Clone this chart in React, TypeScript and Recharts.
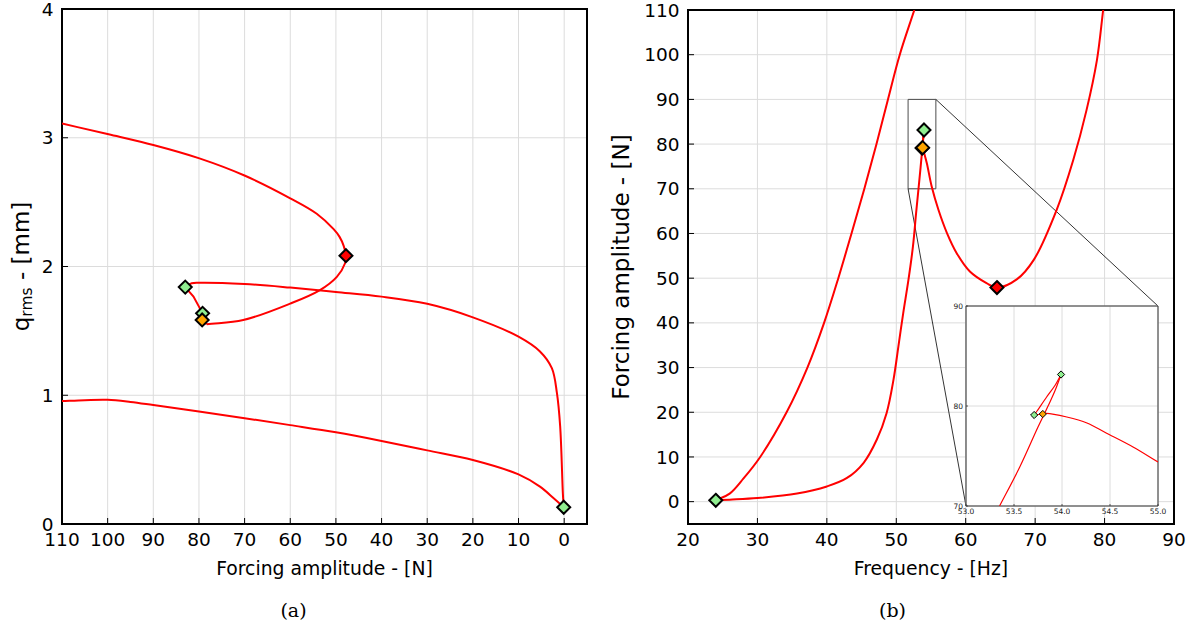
import React from 'react';
import {
  ComposedChart,
  Line,
  Scatter,
  XAxis,
  YAxis,
  CartesianGrid,
  ReferenceArea,
  ReferenceLine,
} from 'recharts';

type P = { x: number; y: number };

// ---------------- Panel (a): q_rms vs forcing amplitude ----------------
const forceTicksA = [110, 100, 90, 80, 70, 60, 50, 40, 30, 20, 10, 0];
const forceDomainA: [number, number] = [-5, 110];
const qrmsTicks = [0, 1, 2, 3, 4];
const qrmsDomain: [number, number] = [0, 4];

const lowerBranchA: P[] = [
  { x: 0.1, y: 0.13 }, { x: 2.3, y: 0.2 }, { x: 5.3, y: 0.29 }, { x: 10, y: 0.385 },
  { x: 20, y: 0.497 }, { x: 30, y: 0.572 }, { x: 40, y: 0.645 }, { x: 50, y: 0.712 },
  { x: 60, y: 0.768 }, { x: 70, y: 0.822 }, { x: 80, y: 0.874 }, { x: 90, y: 0.924 },
  { x: 95, y: 0.948 }, { x: 100, y: 0.965 }, { x: 105, y: 0.962 }, { x: 110, y: 0.955 },
];

const middleBranchA: P[] = [
  { x: 0.1, y: 0.13 }, { x: 0.29, y: 0.24 }, { x: 0.88, y: 0.76 }, { x: 1.6, y: 1.02 },
  { x: 2.7, y: 1.21 }, { x: 5.3, y: 1.34 }, { x: 10, y: 1.455 }, { x: 20, y: 1.605 },
  { x: 30, y: 1.71 }, { x: 40, y: 1.766 }, { x: 50, y: 1.802 }, { x: 60, y: 1.836 },
  { x: 70, y: 1.864 }, { x: 79.8, y: 1.874 }, { x: 81.6, y: 1.87 }, { x: 83, y: 1.84 },
];

// from the orange point, through the fold (red point), up to 110 N
const upperBranchA: P[] = [
  { x: 78.3, y: 1.551 }, { x: 70.3, y: 1.584 }, { x: 60, y: 1.712 }, { x: 53.5, y: 1.817 },
  { x: 49.8, y: 1.92 }, { x: 48.0, y: 2.025 }, { x: 47.8, y: 2.084 }, { x: 48.3, y: 2.16 },
  { x: 49.2, y: 2.23 }, { x: 50.5, y: 2.29 }, { x: 54.2, y: 2.41 }, { x: 60, y: 2.53 },
  { x: 69.9, y: 2.705 }, { x: 79.9, y: 2.84 }, { x: 90, y: 2.944 },
  { x: 99.8, y: 3.027 }, { x: 110, y: 3.11 },
];

const linkA: P[] = [
  { x: 83, y: 1.84 }, { x: 81.2, y: 1.767 }, { x: 79.2, y: 1.636 }, { x: 79.3, y: 1.585 }, { x: 78.3, y: 1.551 },
];

const greenA: P[] = [{ x: 0.1, y: 0.13 }, { x: 83, y: 1.84 }, { x: 79.2, y: 1.636 }];
const orangeA: P[] = [{ x: 79.3, y: 1.585 }];
const redA: P[] = [{ x: 47.8, y: 2.084 }];

// ---------------- Panel (b): forcing amplitude vs frequency ----------------
const freqTicks = [20, 30, 40, 50, 60, 70, 80, 90];
const freqDomain: [number, number] = [20, 90];
const forceTicksB = [0, 10, 20, 30, 40, 50, 60, 70, 80, 90, 100, 110];
const forceDomainB: [number, number] = [-5, 110];

const leftBranchB: P[] = [
  { x: 24, y: 0.3 }, { x: 26, y: 1.8 }, { x: 28, y: 5.2 }, { x: 30.4, y: 10 },
  { x: 34.2, y: 20 }, { x: 37.2, y: 30 }, { x: 39.6, y: 40 }, { x: 41.65, y: 50 },
  { x: 43.55, y: 60 }, { x: 45.4, y: 70 }, { x: 47.15, y: 80 }, { x: 48.8, y: 90 },
  { x: 50.5, y: 100 }, { x: 52.6, y: 110 },
];

const steepBranchB: P[] = [
  { x: 24, y: 0.3 }, { x: 26, y: 0.45 }, { x: 30, y: 0.8 }, { x: 35.7, y: 1.8 },
  { x: 40, y: 3.4 }, { x: 42.9, y: 5.3 }, { x: 45.3, y: 8.7 }, { x: 47.2, y: 13.9 },
  { x: 48.6, y: 19.8 }, { x: 49.6, y: 27.3 }, { x: 50.3, y: 34.7 }, { x: 51.0, y: 42.2 },
  { x: 51.75, y: 49.6 }, { x: 52.4, y: 57.1 }, { x: 52.85, y: 64.5 }, { x: 53.2, y: 70 },
  { x: 53.5, y: 74.8 }, { x: 53.75, y: 79 }, { x: 53.99, y: 83.15 },
];

const valleyBranchB: P[] = [
  { x: 53.8, y: 79.2 }, { x: 54.4, y: 75.7 }, { x: 55.1, y: 70.5 }, { x: 56.07, y: 65.3 },
  { x: 57.3, y: 60.1 }, { x: 58.7, y: 55.6 }, { x: 60.6, y: 51.5 }, { x: 63.0, y: 48.9 },
  { x: 64.5, y: 47.9 }, { x: 67.4, y: 49.8 }, { x: 69.8, y: 54.1 }, { x: 73.1, y: 65.3 },
  { x: 75.5, y: 76.5 }, { x: 77.4, y: 87.6 }, { x: 78.9, y: 98.8 }, { x: 79.8, y: 110 },
];

const loopB: P[] = [
  { x: 53.71, y: 79.1 }, { x: 53.74, y: 79.5 }, { x: 53.84, y: 80.9 }, { x: 53.93, y: 82.1 }, { x: 53.99, y: 83.15 },
];
const linkB: P[] = [{ x: 53.71, y: 79.1 }, { x: 53.8, y: 79.2 }];

const greenB: P[] = [{ x: 24, y: 0.3 }, { x: 53.71, y: 79.1 }, { x: 53.99, y: 83.15 }];
const orangeB: P[] = [{ x: 53.8, y: 79.2 }];
const redB: P[] = [{ x: 64.5, y: 47.9 }];

// zoomed view
const insetXTicks = [53, 53.5, 54, 54.5, 55];
const insetXDomain: [number, number] = [53, 55];
const insetYTicks = [70, 80, 90];
const insetYDomain: [number, number] = [70, 90];
const insetSteep: P[] = [
  { x: 53.35, y: 70 }, { x: 53.56, y: 73.9 }, { x: 53.75, y: 77.9 }, { x: 53.86, y: 80.1 },
  { x: 53.93, y: 81.6 }, { x: 53.99, y: 83.15 },
];
const insetRight: P[] = [
  { x: 53.8, y: 79.2 }, { x: 53.84, y: 79.27 }, { x: 54.05, y: 78.9 }, { x: 54.26, y: 78.3 },
  { x: 54.46, y: 77.3 }, { x: 54.74, y: 75.9 }, { x: 55.0, y: 74.4 },
];

// marked zoom box and inset placement (fraction of panel (b) axes)
const zoomBox = { x1: 51.7, x2: 55.7, y1: 70, y2: 90 };
const insetFrac = { x0: 0.572, x1: 0.967, y0: 0.035, y1: 0.4241 };

// ---------------- layout ----------------
const PA = { left: 62, top: 9, width: 525, height: 515 };
const PB = { left: 688, top: 10, width: 486, height: 514 };
const FIG_H = 629;

const RED = '#ff0000';
const GREEN = '#90ee90';
const ORANGE = '#ffa500';
const GRID = '#dcdcdc';

// centripetal Catmull-Rom curve factory (d3 curve interface), smooth through every point
const catmullRom = (context: any) => {
  let pts: number[][] = [];
  return {
    areaStart() {},
    areaEnd() {},
    lineStart() {
      pts = [];
    },
    point(x: number, y: number) {
      pts.push([+x, +y]);
    },
    lineEnd() {
      const n = pts.length;
      if (!n) return;
      context.moveTo(pts[0][0], pts[0][1]);
      if (n === 1) return;
      if (n === 2) {
        context.lineTo(pts[1][0], pts[1][1]);
        return;
      }
      const dist = (u: number[], v: number[]) => Math.max(Math.pow(Math.hypot(v[0] - u[0], v[1] - u[1]), 0.5), 1e-6);
      for (let i = 0; i < n - 1; i++) {
        const p1 = pts[i];
        const p2 = pts[i + 1];
        const p0 = i > 0 ? pts[i - 1] : [2 * p1[0] - p2[0], 2 * p1[1] - p2[1]];
        const p3 = i + 2 < n ? pts[i + 2] : [2 * p2[0] - p1[0], 2 * p2[1] - p1[1]];
        const t01 = dist(p0, p1);
        const t12 = dist(p1, p2);
        const t23 = dist(p2, p3);
        const m1 = [0, 1].map((k) => p2[k] - p1[k] + t12 * ((p1[k] - p0[k]) / t01 - (p2[k] - p0[k]) / (t01 + t12)));
        const m2 = [0, 1].map((k) => p2[k] - p1[k] + t12 * ((p3[k] - p2[k]) / t23 - (p3[k] - p1[k]) / (t12 + t23)));
        context.bezierCurveTo(
          p1[0] + m1[0] / 3,
          p1[1] + m1[1] / 3,
          p2[0] - m2[0] / 3,
          p2[1] - m2[1] / 3,
          p2[0],
          p2[1],
        );
      }
    },
  };
};

const diamond = (fill: string, r: number, sw: number) => (props: any) => {
  const { cx, cy } = props;
  if (cx == null || cy == null) return <g />;
  return (
    <polygon
      points={`${cx},${cy - r} ${cx + r},${cy} ${cx},${cy + r} ${cx - r},${cy}`}
      fill={fill}
      stroke="#000"
      strokeWidth={sw}
      strokeLinejoin="miter"
    />
  );
};

const tickStyle = { fontSize: 18.5, fill: '#000' };
const tickLineStyle = { stroke: '#000', strokeWidth: 1 };

const lineProps = {
  dataKey: 'y',
  stroke: RED,
  strokeWidth: 2,
  dot: false,
  activeDot: false,
  isAnimationActive: false,
} as const;

function PanelA() {
  const chartW = 600;
  const margin = { top: PA.top, right: chartW - PA.left - PA.width, bottom: FIG_H - PA.top - PA.height - 51, left: 0 };
  return (
    <ComposedChart width={chartW} height={FIG_H} margin={margin}>
      <CartesianGrid stroke={GRID} strokeWidth={1} />
      <XAxis
        type="number"
        dataKey="x"
        domain={forceDomainA}
        reversed
        ticks={forceTicksA}
        interval={0}
        allowDataOverflow
        height={51}
        tickSize={-6}
        tickMargin={15}
        axisLine={false}
        tickLine={tickLineStyle}
        tick={tickStyle}
      />
      <YAxis
        type="number"
        dataKey="y"
        domain={qrmsDomain}
        ticks={qrmsTicks}
        interval={0}
        allowDataOverflow
        width={PA.left}
        tickSize={-6}
        tickMargin={14.5}
        axisLine={false}
        tickLine={tickLineStyle}
        tick={tickStyle}
      />
      <Line {...lineProps} data={lowerBranchA} type={catmullRom as any} />
      <Line {...lineProps} data={middleBranchA} type={catmullRom as any} />
      <Line {...lineProps} data={upperBranchA} type={catmullRom as any} />
      <Line {...lineProps} data={linkA} type="linear" />
      <ReferenceArea x1={forceDomainA[0]} x2={forceDomainA[1]} y1={qrmsDomain[0]} y2={qrmsDomain[1]} fill="none" stroke="#000" strokeWidth={2} ifOverflow="visible" />
      <Scatter data={greenA} shape={diamond(GREEN, 6.5, 2)} isAnimationActive={false} />
      <Scatter data={orangeA} shape={diamond(ORANGE, 6.5, 2)} isAnimationActive={false} />
      <Scatter data={redA} shape={diamond(RED, 6.5, 2)} isAnimationActive={false} />
    </ComposedChart>
  );
}

const fracToX = (f: number) => freqDomain[0] + f * (freqDomain[1] - freqDomain[0]);
const fracToY = (f: number) => forceDomainB[0] + f * (forceDomainB[1] - forceDomainB[0]);

function PanelB() {
  const chartW = 599;
  const offsetLeft = 600;
  const yAxisW = PB.left - offsetLeft;
  const margin = {
    top: PB.top,
    right: chartW - yAxisW - PB.width,
    bottom: FIG_H - PB.top - PB.height - 51,
    left: 0,
  };
  return (
    <ComposedChart width={chartW} height={FIG_H} margin={margin}>
      <CartesianGrid stroke={GRID} strokeWidth={1} />
      <XAxis
        type="number"
        dataKey="x"
        domain={freqDomain}
        ticks={freqTicks}
        interval={0}
        allowDataOverflow
        height={51}
        tickSize={-6}
        tickMargin={15}
        axisLine={false}
        tickLine={tickLineStyle}
        tick={tickStyle}
      />
      <YAxis
        type="number"
        dataKey="y"
        domain={forceDomainB}
        ticks={forceTicksB}
        interval={0}
        allowDataOverflow
        width={yAxisW}
        tickSize={-6}
        tickMargin={14.5}
        axisLine={false}
        tickLine={tickLineStyle}
        tick={tickStyle}
      />
      <ReferenceArea x1={zoomBox.x1} x2={zoomBox.x2} y1={zoomBox.y1} y2={zoomBox.y2} fill="none" stroke="#4d4d4d" strokeWidth={1} ifOverflow="visible" />
      <ReferenceLine
        segment={[{ x: zoomBox.x2, y: zoomBox.y2 }, { x: fracToX(insetFrac.x1), y: fracToY(insetFrac.y1) }]}
        stroke="#000"
        strokeWidth={0.8}
        ifOverflow="visible"
      />
      <ReferenceLine
        segment={[{ x: zoomBox.x1, y: zoomBox.y1 }, { x: fracToX(insetFrac.x0), y: fracToY(insetFrac.y0) }]}
        stroke="#000"
        strokeWidth={0.8}
        ifOverflow="visible"
      />
      <Line {...lineProps} data={leftBranchB} type={catmullRom as any} />
      <Line {...lineProps} data={steepBranchB} type={catmullRom as any} />
      <Line {...lineProps} data={valleyBranchB} type={catmullRom as any} />
      <Line {...lineProps} data={loopB} type={catmullRom as any} />
      <Line {...lineProps} data={linkB} type="linear" />
      <ReferenceArea x1={freqDomain[0]} x2={freqDomain[1]} y1={forceDomainB[0]} y2={forceDomainB[1]} fill="none" stroke="#000" strokeWidth={2} ifOverflow="visible" />
      <Scatter data={greenB} shape={diamond(GREEN, 6.5, 2)} isAnimationActive={false} />
      <Scatter data={orangeB} shape={diamond(ORANGE, 6.5, 2)} isAnimationActive={false} />
      <Scatter data={redB} shape={diamond(RED, 6.5, 2)} isAnimationActive={false} />
    </ComposedChart>
  );
}

function Inset({ w, h }: { w: number; h: number }) {
  const yAxisW = 24;
  const xAxisH = 14;
  return (
    <ComposedChart width={yAxisW + w + 14} height={4 + h + xAxisH} margin={{ top: 4, right: 14, bottom: 0, left: 0 }}>
      <CartesianGrid stroke={GRID} strokeWidth={1} fill="#ffffff" fillOpacity={1} />
      <XAxis
        type="number"
        dataKey="x"
        domain={insetXDomain}
        ticks={insetXTicks}
        interval={0}
        allowDataOverflow
        height={xAxisH}
        tickSize={-2}
        tickMargin={5}
        axisLine={false}
        tickLine={{ stroke: '#333', strokeWidth: 0.8 }}
        tick={{ fontSize: 7.5, fill: '#222' }}
        tickFormatter={(v: number) => v.toFixed(1)}
      />
      <YAxis
        type="number"
        dataKey="y"
        domain={insetYDomain}
        ticks={insetYTicks}
        interval={0}
        allowDataOverflow
        width={yAxisW}
        tickSize={-2}
        tickMargin={5}
        axisLine={false}
        tickLine={{ stroke: '#333', strokeWidth: 0.8 }}
        tick={{ fontSize: 7.5, fill: '#222' }}
      />
      <Line {...lineProps} strokeWidth={1.2} data={insetSteep} type={catmullRom as any} />
      <Line {...lineProps} strokeWidth={1.2} data={loopB} type={catmullRom as any} />
      <Line {...lineProps} strokeWidth={1.2} data={linkB} type="linear" />
      <Line {...lineProps} strokeWidth={1.2} data={insetRight} type={catmullRom as any} />
      <ReferenceArea x1={insetXDomain[0]} x2={insetXDomain[1]} y1={insetYDomain[0]} y2={insetYDomain[1]} fill="none" stroke="#333" strokeWidth={1} ifOverflow="visible" />
      <Scatter data={greenB} shape={diamond(GREEN, 3.6, 1)} isAnimationActive={false} />
      <Scatter data={orangeB} shape={diamond(ORANGE, 3.6, 1)} isAnimationActive={false} />
    </ComposedChart>
  );
}

export default function App() {
  const insetLeft = Math.round(PB.left + insetFrac.x0 * PB.width);
  const insetRightPx = Math.round(PB.left + insetFrac.x1 * PB.width);
  const insetTop = Math.round(PB.top + (1 - insetFrac.y1) * PB.height);
  const insetBottom = Math.round(PB.top + (1 - insetFrac.y0) * PB.height);
  const iw = insetRightPx - insetLeft;
  const ih = insetBottom - insetTop;
  return (
    <div
      style={{
        position: 'absolute',
        left: 0,
        top: 0,
        width: 1199,
        height: FIG_H,
        background: '#fff',
        fontFamily: '"DejaVu Sans", sans-serif',
        overflow: 'hidden',
      }}
    >
      <div style={{ position: 'absolute', left: 0, top: 0 }}>
        <PanelA />
      </div>
      <div style={{ position: 'absolute', left: 600, top: 0 }}>
        <PanelB />
      </div>
      <div style={{ position: 'absolute', left: insetLeft - 24, top: insetTop - 4 }}>
        <Inset w={iw} h={ih} />
      </div>
      <svg
        width={1199}
        height={FIG_H}
        style={{ position: 'absolute', left: 0, top: 0, pointerEvents: 'none' }}
        fontFamily='"DejaVu Sans", sans-serif'
      >
        <text x={PA.left + PA.width / 2} y={575} textAnchor="middle" fontSize={18.8} fill="#000">
          Forcing amplitude - [N]
        </text>
        <text x={PB.left + PB.width / 2} y={575} textAnchor="middle" fontSize={18.8} fill="#000">
          Frequency - [Hz]
        </text>
        <text transform={`translate(29 ${PA.top + PA.height / 2}) rotate(-90)`} textAnchor="middle" fontSize={23} fill="#000">
          q<tspan fontSize={15.5} dy={2.5}>rms</tspan>
          <tspan dy={-2.5}> - [mm]</tspan>
        </text>
        <text transform={`translate(628.5 ${PB.top + PB.height / 2}) rotate(-90)`} textAnchor="middle" fontSize={23} fill="#000">
          Forcing amplitude - [N]
        </text>
        <text x={293.5} y={616.5} textAnchor="middle" fontSize={19} fontFamily='"DejaVu Serif", serif' fill="#000">
          (a)
        </text>
        <text x={892.5} y={616.5} textAnchor="middle" fontSize={19} fontFamily='"DejaVu Serif", serif' fill="#000">
          (b)
        </text>
      </svg>
    </div>
  );
}
